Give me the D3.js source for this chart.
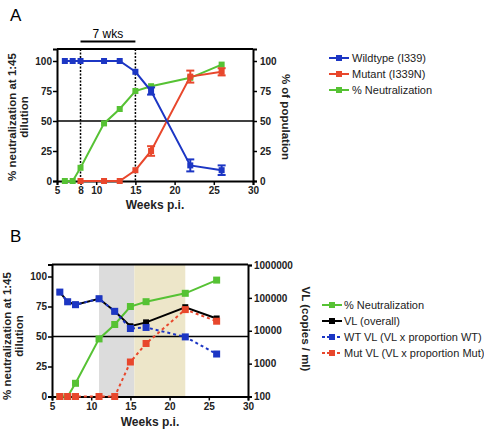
<!DOCTYPE html>
<html><head><meta charset="utf-8">
<script src="https://cdn.jsdelivr.net/npm/d3@7"></script>
<style>
body{margin:0;background:#fff;}
svg{display:block;font-family:"Liberation Sans",Arial,sans-serif;}
.tick text{font-weight:bold;font-size:10px;fill:#222;}
</style></head><body>
<svg id="c" width="484" height="431"></svg>
<script>
// ---------- data ----------
const weeks = [6, 7, 8, 11, 13, 15, 17, 22, 26];
const wildtype = [100, 100, 100, 100, 100, 91, 75, 13, 9];
const wildtypeErr = [0, 0, 0, 0, 0, 0, 3, 5, 4];
const mutantWeeks = [8, 11, 13, 15, 17, 22, 26];
const mutant = [0, 0, 0, 9, 25, 87, 91];
const mutantErr = [0, 0, 0, 0, 4, 5, 3];
const neutralization = [0, 0, 11, 48, 60, 75, 79, 86, 97];
const vlOverall = [150000, 76000, 62000, 94000, 39000, 13700, 18000, 52000, 23600];
const wtVL = [150000, 76000, 62000, 94000, 39000, 11700, 12600, 6500, 1960];
const mutVL = [100, 100, 100, 100, 100, 1120, 4100, 44000, 19500];
const pctTicks = [0, 25, 50, 75, 100];
const xTicksA = [5, 8, 10, 15, 20, 25, 30];
const xTicksB = [5, 10, 15, 20, 25, 30];
const vlTicks = [100, 1000, 10000, 100000, 1000000];
const legendA = ["Wildtype (I339)", "Mutant (I339N)", "% Neutralization"];
const legendB = ["% Neutralization", "VL (overall)", "WT VL (VL x proportion WT)", "Mut VL (VL x proportion Mut)"];
const bracketWeeks = [8, 15];
const grayBand = [11, 15.5];
const tanBand = [15.5, 22];

const BLUE = "#1c36c4", RED = "#e8472c", GREEN = "#56c234", BLACK = "#000";
const svg = d3.select("#c");

function frame(g, x, y, top) {
  const [x0, x1] = x.range();
  g.append("line").attr("x1", x0).attr("x2", x1).attr("y1", top).attr("y2", top)
    .attr("stroke", "#000").attr("stroke-width", 2);
}
function sq(g, x, y, xs, ys, color, size) {
  g.selectAll(null).data(xs.map((d, i) => [d, ys[i]])).enter().append("rect")
    .attr("x", d => x(d[0]) - size / 2).attr("y", d => y(d[1]) - size / 2)
    .attr("width", size).attr("height", size).attr("fill", color);
}
function line(g, x, y, xs, ys, color, dash) {
  g.append("path").datum(xs.map((d, i) => [d, ys[i]]))
    .attr("d", d3.line().x(d => x(d[0])).y(d => y(d[1])))
    .attr("fill", "none").attr("stroke", color).attr("stroke-width", 2)
    .attr("stroke-dasharray", dash || null);
}
function errs(g, x, y, xs, ys, es, color) {
  xs.forEach((d, i) => {
    if (!es[i]) return;
    const cx = x(d), t = y(ys[i] + es[i]), b = y(ys[i] - es[i]);
    g.append("line").attr("x1", cx).attr("x2", cx).attr("y1", t).attr("y2", b).attr("stroke", color).attr("stroke-width", 2);
    [t, b].forEach(yy => g.append("line").attr("x1", cx - 4).attr("x2", cx + 4).attr("y1", yy).attr("y2", yy).attr("stroke", color).attr("stroke-width", 2));
  });
}
function styleAxis(a) {
  a.selectAll(".domain").attr("stroke-width", 2);
  a.selectAll(".tick line").attr("stroke-width", 1.5);
}

// ================= Panel A =================
const xA = d3.scaleLinear().domain([5, 30]).range([57, 253]);
const yA = d3.scaleLinear().domain([0, 110]).range([181, 49]);
const gA = svg.append("g");

svg.append("text").attr("x", 10).attr("y", 21).attr("font-size", 17).text("A");

// bracket
gA.append("line").attr("x1", xA(bracketWeeks[0])).attr("x2", xA(bracketWeeks[1]))
  .attr("y1", 41.5).attr("y2", 41.5).attr("stroke", "#000").attr("stroke-width", 2);
gA.append("text").attr("x", (xA(bracketWeeks[0]) + xA(bracketWeeks[1])) / 2).attr("y", 38)
  .attr("text-anchor", "middle").attr("font-size", 12).text("7 wks");

// dotted verticals
bracketWeeks.forEach(w => gA.append("line").attr("x1", xA(w)).attr("x2", xA(w))
  .attr("y1", yA(110)).attr("y2", yA(0)).attr("stroke", "#000").attr("stroke-width", 1.5)
  .attr("stroke-dasharray", "2,1.5"));
// 50 line
gA.append("line").attr("x1", xA(5)).attr("x2", xA(30)).attr("y1", yA(50)).attr("y2", yA(50))
  .attr("stroke", "#000").attr("stroke-width", 1.5);
frame(gA, xA, yA, yA(110));

styleAxis(gA.append("g").attr("transform", `translate(0,${yA(0)})`)
  .call(d3.axisBottom(xA).tickValues(xTicksA).tickSize(4).tickPadding(2)));
styleAxis(gA.append("g").attr("transform", `translate(${xA(5)},0)`)
  .call(d3.axisLeft(yA).tickValues(pctTicks).tickSize(4).tickPadding(1)));
styleAxis(gA.append("g").attr("transform", `translate(${xA(30)},0)`)
  .call(d3.axisRight(yA).tickValues(pctTicks).tickSize(4).tickPadding(3)));

// series
line(gA, xA, yA, weeks, neutralization, GREEN);
sq(gA, xA, yA, weeks, neutralization, GREEN, 6);
line(gA, xA, yA, mutantWeeks, mutant, RED);
errs(gA, xA, yA, mutantWeeks, mutant, mutantErr, RED);
sq(gA, xA, yA, mutantWeeks, mutant, RED, 6);
line(gA, xA, yA, weeks, wildtype, BLUE);
errs(gA, xA, yA, weeks, wildtype, wildtypeErr, BLUE);
sq(gA, xA, yA, weeks, wildtype, BLUE, 6);

// titles A
const ltA = svg.append("text").attr("transform", `translate(16,117) rotate(-90)`)
  .attr("text-anchor", "middle").attr("font-size", 11.5).attr("font-weight", "bold").attr("fill", "#222");
ltA.append("tspan").attr("x", 0).attr("dy", 0).text("% neutralization at 1:45");
ltA.append("tspan").attr("x", 0).attr("dy", 12).text("dilution");
svg.append("text").attr("transform", `translate(282,117) rotate(90)`).attr("text-anchor", "middle")
  .attr("font-size", 11.5).attr("font-weight", "bold").attr("fill", "#222").text("% of population");
svg.append("text").attr("x", (xA(5) + xA(30)) / 2).attr("y", 209).attr("text-anchor", "middle")
  .attr("font-size", 12).attr("font-weight", "bold").attr("fill", "#222").text("Weeks p.i.");

// legend A
const colsA = [BLUE, RED, GREEN];
legendA.forEach((t, i) => {
  const yy = 58 + i * 16;
  svg.append("line").attr("x1", 329).attr("x2", 349).attr("y1", yy).attr("y2", yy).attr("stroke", colsA[i]).attr("stroke-width", 2);
  svg.append("rect").attr("x", 336).attr("y", yy - 3).attr("width", 6).attr("height", 6).attr("fill", colsA[i]);
  svg.append("text").attr("x", 352).attr("y", yy + 4).attr("font-size", 11).attr("fill", "#222").text(t);
});

// ================= Panel B =================
const xB = d3.scaleLinear().domain([5, 30]).range([52, 248]);
const yB = d3.scaleLinear().domain([0, 110]).range([396.5, 264.5]);
const yL = d3.scaleLog().domain([100, 1000000]).range([396.5, 265]);
const gB = svg.append("g");

svg.append("text").attr("x", 10).attr("y", 242).attr("font-size", 17).text("B");

gB.append("rect").attr("x", xB(grayBand[0])).attr("width", xB(grayBand[1]) - xB(grayBand[0]))
  .attr("y", yB(110)).attr("height", yB(0) - yB(110)).attr("fill", "#dcdcdc");
gB.append("rect").attr("x", xB(tanBand[0])).attr("width", xB(tanBand[1]) - xB(tanBand[0]))
  .attr("y", yB(110)).attr("height", yB(0) - yB(110)).attr("fill", "#ede6c9");
gB.append("line").attr("x1", xB(5)).attr("x2", xB(30)).attr("y1", yB(50)).attr("y2", yB(50))
  .attr("stroke", "#000").attr("stroke-width", 1.5);
frame(gB, xB, yB, yB(110));

styleAxis(gB.append("g").attr("transform", `translate(0,${yB(0)})`)
  .call(d3.axisBottom(xB).tickValues(xTicksB).tickSize(4).tickPadding(2)));
styleAxis(gB.append("g").attr("transform", `translate(${xB(5)},0)`)
  .call(d3.axisLeft(yB).tickValues(pctTicks).tickSize(4).tickPadding(1)));
styleAxis(gB.append("g").attr("transform", `translate(${xB(30)},0)`)
  .call(d3.axisRight(yL).tickValues(vlTicks).tickFormat(d3.format("d")).tickSize(4).tickPadding(2)));

line(gB, xB, yB, weeks, neutralization, GREEN);
sq(gB, xB, yB, weeks, neutralization, GREEN, 7);
line(gB, xB, yL, weeks, vlOverall, BLACK);
sq(gB, xB, yL, weeks, vlOverall, BLACK, 6);
line(gB, xB, yL, weeks, wtVL, BLUE, "3,3");
sq(gB, xB, yL, weeks, wtVL, BLUE, 7);
line(gB, xB, yL, weeks, mutVL, RED, "3,3");
sq(gB, xB, yL, weeks, mutVL, RED, 7);

const ltB = svg.append("text").attr("transform", `translate(11,336) rotate(-90)`)
  .attr("text-anchor", "middle").attr("font-size", 11.5).attr("font-weight", "bold").attr("fill", "#222");
ltB.append("tspan").attr("x", 0).attr("dy", 0).text("% neutralization at 1:45");
ltB.append("tspan").attr("x", 0).attr("dy", 12).text("dilution");
svg.append("text").attr("transform", `translate(302,329) rotate(90)`).attr("text-anchor", "middle")
  .attr("font-size", 11.5).attr("font-weight", "bold").attr("fill", "#222").text("VL (copies / ml)");
svg.append("text").attr("x", (xB(5) + xB(30)) / 2).attr("y", 426).attr("text-anchor", "middle")
  .attr("font-size", 12).attr("font-weight", "bold").attr("fill", "#222").text("Weeks p.i.");

const colsB = [GREEN, BLACK, BLUE, RED];
const dashB = [null, null, "3,2", "3,2"];
legendB.forEach((t, i) => {
  const yy = 305 + i * 16;
  svg.append("line").attr("x1", 322).attr("x2", 342).attr("y1", yy).attr("y2", yy).attr("stroke", colsB[i])
    .attr("stroke-width", 2).attr("stroke-dasharray", dashB[i]);
  svg.append("rect").attr("x", 329).attr("y", yy - 3).attr("width", 6).attr("height", 6).attr("fill", colsB[i]);
  svg.append("text").attr("x", 344).attr("y", yy + 4).attr("font-size", 11).attr("fill", "#222").text(t);
});
</script></body></html>
